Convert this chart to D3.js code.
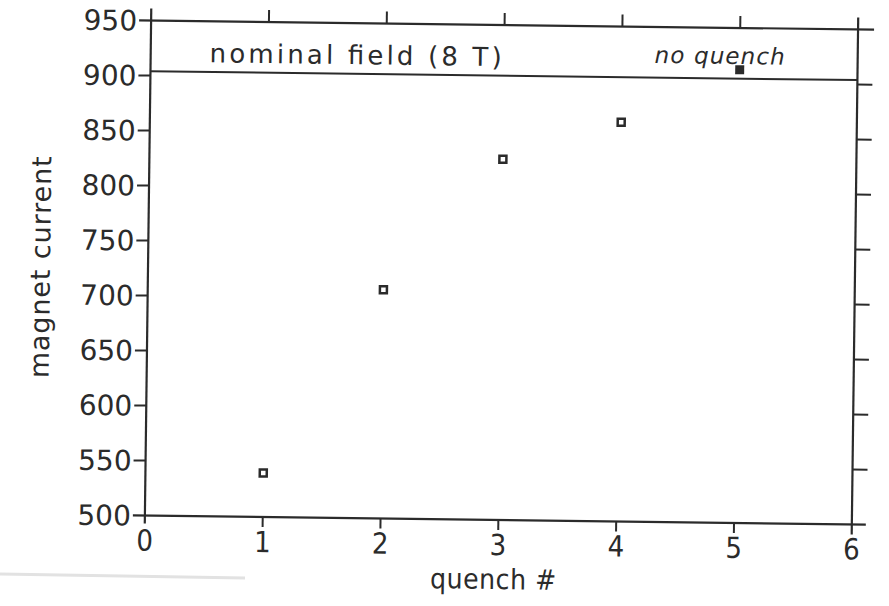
<!DOCTYPE html>
<html lang="en">
<head>
    <meta charset="UTF-8">
    <title>Magnet training quenches</title>
    <script src="https://d3js.org/d3.v7.min.js"></script>
    <style>
        body { margin: 0; background: #fff; }
        text { fill: #2b2b2b; }
    </style>
</head>
<body>
    <svg id="chart" width="889" height="606"></svg>

    <script>
        // quench data
        const quenchNum = [1, 2, 3, 4];
        const quenchCurrent = [540, 708, 828, 863];
        const noQuenchNum = [5];
        const noQuenchCurrent = [912];
        const nominalCurrent = 904;

        const xTicks = [0, 1, 2, 3, 4, 5, 6];
        const yTicks = [500, 550, 600, 650, 700, 750, 800, 850, 900, 950];

        const ink = "#2b2b2b";
        const svg = d3.select("#chart");

        // faint scanner mark at the bottom left
        svg.append("line")
            .attr("x1", 0).attr("y1", 574)
            .attr("x2", 245).attr("y2", 578)
            .attr("stroke", "#e2e2e2")
            .attr("stroke-width", 3);

        // the scan is tilted a little, so the whole plot is rotated
        const g = svg.append("g").attr("transform", "rotate(0.72, 500, 270)");

        const x = d3.scaleLinear().domain([0, 6]).range([148, 855]);
        const y = d3.scaleLinear().domain([500, 950]).range([520, 25]);

        const L = x(0), R = x(6), T = y(950), B = y(500);

        // frame, lines run a bit past the corners
        const frame = [
            [L, T - 12, L, B + 8],
            [R, T - 12, R, B + 10],
            [L - 12, T, R + 16, T],
            [L - 12, B, R + 14, B]
        ];
        g.selectAll(".frame")
            .data(frame)
            .enter().append("line")
            .attr("class", "frame")
            .attr("x1", d => d[0]).attr("y1", d => d[1])
            .attr("x2", d => d[2]).attr("y2", d => d[3])
            .attr("stroke", ink)
            .attr("stroke-width", 2.2);

        // left / right ticks + labels
        const yInner = yTicks.slice(1, -1);
        g.selectAll(".ytickL")
            .data(yInner)
            .enter().append("line")
            .attr("x1", L - 12).attr("x2", L)
            .attr("y1", d => y(d)).attr("y2", d => y(d))
            .attr("stroke", ink).attr("stroke-width", 2);

        g.selectAll(".ytickR")
            .data(yInner)
            .enter().append("line")
            .attr("x1", R).attr("x2", R + 15)
            .attr("y1", d => y(d)).attr("y2", d => y(d))
            .attr("stroke", ink).attr("stroke-width", 2);

        g.selectAll(".ylab")
            .data(yTicks)
            .enter().append("text")
            .attr("x", L - 14)
            .attr("y", d => y(d))
            .attr("dy", "0.36em")
            .attr("text-anchor", "end")
            .style("font-family", "DejaVu Sans")
            .style("font-size", "28px")
            .text(d => d);

        // top and bottom ticks
        const xInner = xTicks.slice(1, -1);
        g.selectAll(".xtickT")
            .data(xInner)
            .enter().append("line")
            .attr("x1", d => x(d)).attr("x2", d => x(d))
            .attr("y1", T - 12).attr("y2", T)
            .attr("stroke", ink).attr("stroke-width", 2);

        g.selectAll(".xtickB")
            .data(xInner)
            .enter().append("line")
            .attr("x1", d => x(d)).attr("x2", d => x(d))
            .attr("y1", B).attr("y2", B + 10)
            .attr("stroke", ink).attr("stroke-width", 2);

        g.selectAll(".xlab")
            .data(xTicks)
            .enter().append("text")
            .attr("x", d => x(d))
            .attr("y", B + 35)
            .attr("text-anchor", "middle")
            .style("font-family", "DejaVu Sans Condensed, DejaVu Sans")
            .style("font-size", "29px")
            .text(d => d);

        // axis titles
        g.append("text")
            .attr("x", 497).attr("y", B + 69)
            .attr("text-anchor", "middle")
            .attr("textLength", 126)
            .attr("lengthAdjust", "spacing")
            .style("font-family", "DejaVu Sans Condensed, DejaVu Sans")
            .style("font-size", "28px")
            .text("quench #");

        g.append("text")
            .attr("transform", "translate(50, 273) rotate(-90)")
            .attr("text-anchor", "middle")
            .attr("textLength", 222)
            .attr("lengthAdjust", "spacing")
            .style("font-family", "DejaVu Sans")
            .style("font-size", "27px")
            .text("magnet current");

        // nominal field line
        g.append("line")
            .attr("x1", L).attr("x2", R)
            .attr("y1", y(nominalCurrent)).attr("y2", y(nominalCurrent))
            .attr("stroke", ink).attr("stroke-width", 2);

        g.append("text")
            .attr("x", 207).attr("y", 66)
            .attr("textLength", 292)
            .attr("lengthAdjust", "spacing")
            .style("font-family", "DejaVu Sans")
            .style("font-size", "26px")
            .text("nominal field (8 T)");

        g.append("text")
            .attr("x", 652).attr("y", 61)
            .attr("textLength", 130)
            .attr("lengthAdjust", "spacing")
            .style("font-family", "DejaVu Sans")
            .style("font-style", "italic")
            .style("font-size", "23px")
            .text("no quench");

        // quench points: open squares
        const s = 7;
        g.selectAll(".pt")
            .data(quenchNum.map((q, i) => [q, quenchCurrent[i]]))
            .enter().append("rect")
            .attr("class", "pt")
            .attr("x", d => x(d[0]) - s / 2)
            .attr("y", d => y(d[1]) - s / 2)
            .attr("width", s).attr("height", s)
            .attr("fill", "#fff")
            .attr("stroke", ink)
            .attr("stroke-width", 2.5);

        // reached without quench: filled square
        g.selectAll(".nq")
            .data(noQuenchNum.map((q, i) => [q, noQuenchCurrent[i]]))
            .enter().append("rect")
            .attr("class", "nq")
            .attr("x", d => x(d[0]) - 4.5)
            .attr("y", d => y(d[1]) - 4.5)
            .attr("width", 9).attr("height", 9)
            .attr("fill", ink);
    </script>
</body>
</html>
